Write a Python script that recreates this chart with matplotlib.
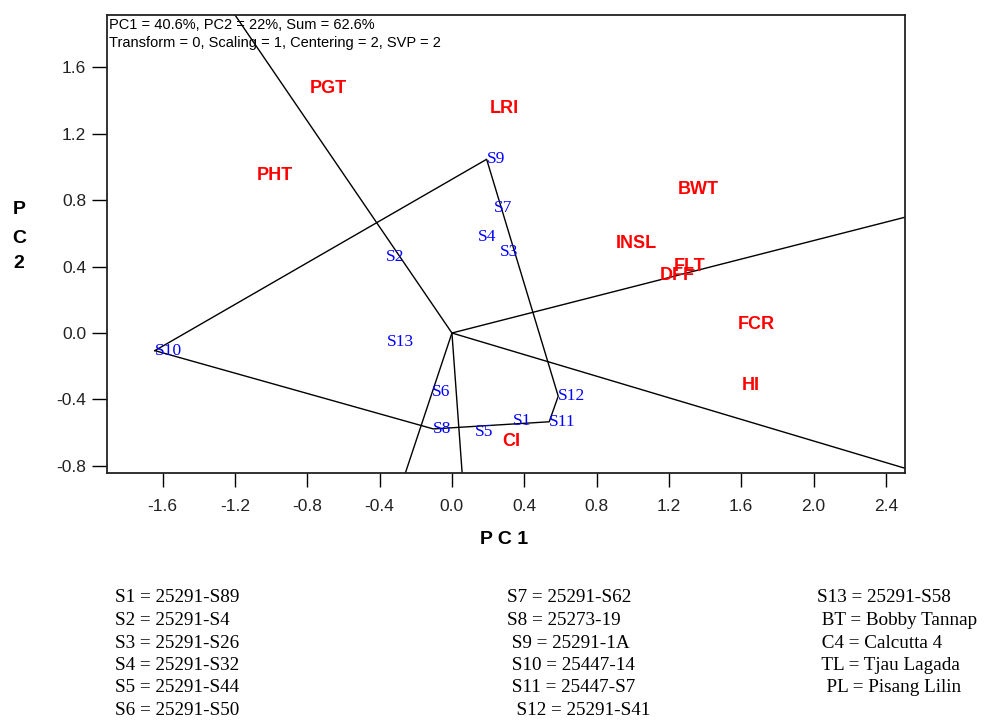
import matplotlib
matplotlib.use("Agg")
import matplotlib.pyplot as plt
import numpy as np

plt.rcParams["axes.unicode_minus"] = False

# genotype scores on PC1 / PC2
genotypes = ["S1", "S2", "S3", "S4", "S5", "S6", "S7", "S8", "S9", "S10", "S11", "S12", "S13"]
gen_pc1 = [0.339, -0.365, 0.265, 0.146, 0.127, -0.112, 0.232, -0.103, 0.192, -1.643, 0.538, 0.588, -0.361]
gen_pc2 = [-0.532, 0.459, 0.489, 0.579, -0.598, -0.353, 0.752, -0.577, 1.045, -0.106, -0.534, -0.380, -0.052]

# trait scores
traits = ["PGT", "LRI", "PHT", "BWT", "INSL", "FLT", "DFF", "FCR", "HI", "CI"]
trait_pc1 = [-0.785, 0.210, -1.080, 1.248, 0.904, 1.228, 1.149, 1.582, 1.602, 0.280]
trait_pc2 = [1.468, 1.353, 0.950, 0.866, 0.539, 0.403, 0.343, 0.054, -0.313, -0.654]

# vertex genotypes of the polygon, in drawing order
hull = ["S10", "S9", "S12", "S11", "S8"]

header = ["PC1 = 40.6%, PC2 = 22%, Sum = 62.6%",
          "Transform = 0, Scaling = 1, Centering = 2, SVP = 2"]

xticks = [-1.6, -1.2, -0.8, -0.4, 0.0, 0.4, 0.8, 1.2, 1.6, 2.0, 2.4]
yticks = [-0.8, -0.4, 0.0, 0.4, 0.8, 1.2, 1.6]

key_cols = [
    ["S1 = 25291-S89", "S2 = 25291-S4", "S3 = 25291-S26", "S4 = 25291-S32",
     "S5 = 25291-S44", "S6 = 25291-S50"],
    ["S7 = 25291-S62", "S8 = 25273-19", " S9 = 25291-1A", " S10 = 25447-14",
     " S11 = 25447-S7", "  S12 = 25291-S41"],
    ["S13 = 25291-S58", " BT = Bobby Tannap", " C4 = Calcutta 4", " TL = Tjau Lagada",
     "  PL = Pisang Lilin"],
]

fig = plt.figure(figsize=(9.87, 7.21), dpi=100)
ax = fig.add_axes([0.1084, 0.3440, 0.8085, 0.6352])
ax.set_xlim(-1.908, 2.506)
ax.set_ylim(-0.842, 1.913)

pos = {g: (x, y) for g, x, y in zip(genotypes, gen_pc1, gen_pc2)}
px = np.array([pos[g][0] for g in hull] + [pos[hull[0]][0]])
py = np.array([pos[g][1] for g in hull] + [pos[hull[0]][1]])
ax.plot(px, py, color="black", lw=1.0, zorder=2)

# rays from the origin perpendicular to each side of the polygon
for i in range(len(hull)):
    dx = px[i + 1] - px[i]
    dy = py[i + 1] - py[i]
    nx, ny = -dy, dx
    ax.plot([0, nx * 20], [0, ny * 20], color="black", lw=1.0, zorder=2)

for g, x, y in zip(genotypes, gen_pc1, gen_pc2):
    ax.text(x, y, g, color="#0000ff", fontsize=12.5, family="Liberation Serif",
            ha="left", va="center", zorder=3)

for t, x, y in zip(traits, trait_pc1, trait_pc2):
    ax.text(x, y, t, color="#ff0000", fontsize=13, fontweight="bold",
            family="Liberation Sans", ha="left", va="center", zorder=3)

ax.text(0.002, 0.978, header[0], transform=ax.transAxes, fontsize=10.5,
        family="Liberation Sans", ha="left", va="center")
ax.text(0.002, 0.938, header[1], transform=ax.transAxes, fontsize=10.5,
        family="Liberation Sans", ha="left", va="center")

ax.set_xticks(xticks)
ax.set_yticks(yticks)
ax.set_xticklabels([f"{v:.1f}" for v in xticks], family="Liberation Sans",
                   fontsize=12.5, color="#222222")
ax.set_yticklabels([f"{v:.1f}" for v in yticks], family="Liberation Sans",
                   fontsize=12.5, color="#222222")
ax.tick_params(axis="x", direction="out", length=10, width=1.0, pad=9)
ax.tick_params(axis="y", direction="out", length=11, width=1.0, pad=4)
for sp in ax.spines.values():
    sp.set_linewidth(1.3)
    sp.set_color("#222222")

fig.text(504 / 987, 1 - 540 / 721, "P C 1", fontsize=14, fontweight="bold",
         family="Liberation Sans", ha="center", va="center")
for letter, yy in zip(["P", "C", "2"], [209, 238, 263]):
    fig.text(19 / 987, 1 - yy / 721, letter, fontsize=14, fontweight="bold",
             family="Liberation Sans", ha="center", va="center")

col_x = [115, 507, 817]
row_y = [598, 620.5, 643, 665.5, 688, 710.5]
for cx, items in zip(col_x, key_cols):
    for item, ry in zip(items, row_y):
        fig.text(cx / 987, 1 - ry / 721, item, fontsize=13.8,
                 family="Liberation Serif", ha="left", va="center")

fig.savefig("out.png", dpi=100, facecolor="white")
